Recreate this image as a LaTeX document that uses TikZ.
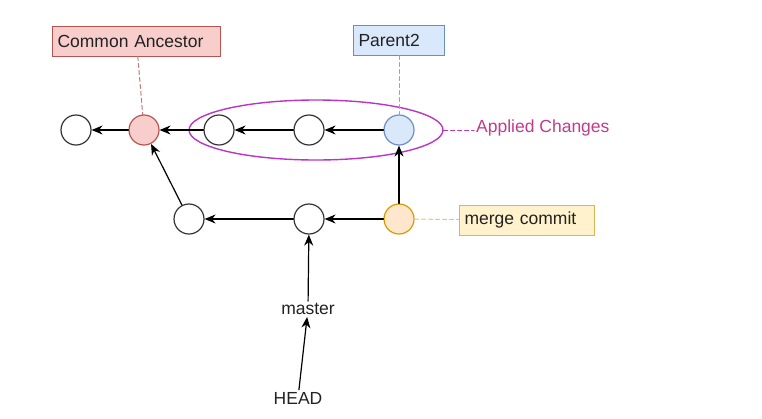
\documentclass[tikz,border=0pt]{standalone}
\usepackage{fontspec}
\setmainfont{Liberation Sans}
\usetikzlibrary{arrows.meta,shapes.geometric}

\definecolor{redfill}{HTML}{F8CECC}
\definecolor{redline}{HTML}{B85450}
\definecolor{bluefill}{HTML}{DAE8FC}
\definecolor{blueline}{HTML}{6C8EBF}
\definecolor{orangefill}{HTML}{FFE6CC}
\definecolor{orangeline}{HTML}{D79B00}
\definecolor{yellowfill}{HTML}{FFF2CC}
\definecolor{yellowline}{HTML}{D6B656}
\definecolor{ringline}{HTML}{B935C7}
\definecolor{ringtext}{HTML}{C13A8C}
\definecolor{commitline}{HTML}{333333}
\definecolor{inktext}{HTML}{222222}

\tikzset{
  commit/.style={circle, draw=commitline, line width=1.2pt, fill=white,
                 minimum size=30pt, inner sep=0pt},
  tag/.style={draw, line width=1pt, inner xsep=5pt, inner ysep=0pt,
              minimum height=30pt, align=left, anchor=west, text=inktext,
              font=\fontsize{17.5}{20}\selectfont},
  label/.style={font=\fontsize{17.5}{20}\selectfont, inner sep=2pt, text=inktext},
  parent/.style={-{Stealth[length=11pt,width=9pt]}, line width=1.2pt},
  leader/.style={dashed, dash pattern=on 4pt off 3pt, line width=1pt}
}

\begin{document}
\begin{tikzpicture}[x=1pt, y=-1pt, line cap=round]
  \useasboundingbox (0,0) rectangle (762,418);

  % commits on the upper line
  \node [commit] (c0) at (76,130) {};
  \node [commit, fill=redfill, draw=redline] (base) at (144,130) {};
  \node [commit] (c2) at (219,130) {};
  \node [commit] (c3) at (309,130) {};
  \node [commit, fill=bluefill, draw=blueline] (p2) at (399,130) {};

  % commits on the lower line
  \node [commit] (b1) at (189,219) {};
  \node [commit] (b2) at (309,219) {};
  \node [commit, fill=orangefill, draw=orangeline] (merge) at (399,219) {};

  % tags
  \node [tag, fill=redfill, draw=redline, text width=158pt] (basetag) at (52,41) {Common Ancestor};
  \node [tag, fill=bluefill, draw=blueline, text width=81pt] (p2tag) at (353,40) {Parent2};
  \node [tag, fill=yellowfill, draw=yellowline, text width=125pt] (mergetag) at (459,220) {merge commit};

  % refs
  \node [label] (master) at (308,309) {master};
  \node [label] (head) at (298,398) {HEAD};

  % applied changes
  \node [ellipse, draw=ringline, line width=1.4pt, minimum width=254pt,
         minimum height=60pt, inner sep=0pt] (changes) at (316,130) {};
  \node [label, text=ringtext, anchor=west] (changestag) at (474,128) {Applied Changes};

  \draw [parent] (base) -- (c0);
  \draw [parent] (c2) -- (base);
  \draw [parent] (c3) -- (c2);
  \draw [parent] (p2) -- (c3);
  \draw [parent] (b1) -- (base);
  \draw [parent] (b2) -- (b1);
  \draw [parent] (merge) -- (b2);
  \draw [parent] (merge) -- (p2);
  \draw [parent] (master) -- (b2);
  \draw [parent] (head) -- (master);

  \draw [leader, draw=redline!80] (basetag) -- (base);
  \draw [leader, draw=blueline!80] (p2tag) -- (p2);
  \draw [leader, draw=yellowline!80] (merge) -- (mergetag);
  \draw [leader, draw=ringline] (changes.east) -- (changes.east -| changestag.west);

\end{tikzpicture}
\end{document}
